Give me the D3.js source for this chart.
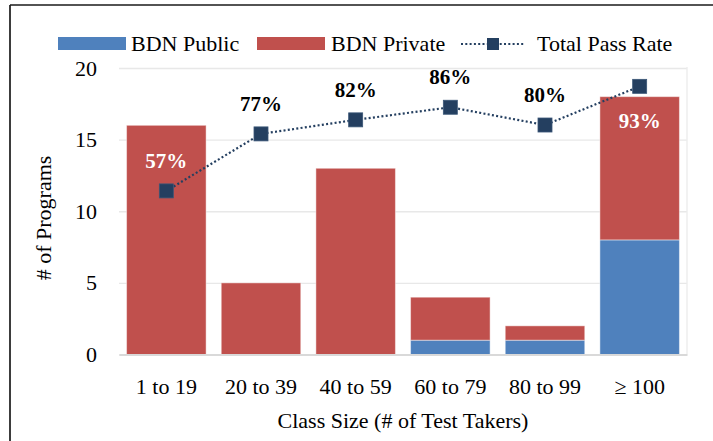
<!DOCTYPE html>
<html>
<head>
<meta charset="utf-8">
<script src="https://cdn.jsdelivr.net/npm/d3@7/dist/d3.min.js"></script>
<style>
  html, body { margin: 0; padding: 0; background: #fff; }
  svg { display: block; }
  text { font-family: "Palatino Linotype", "Book Antiqua", Palatino, "Liberation Serif", serif; }
</style>
</head>
<body>
<svg id="chart" width="713" height="441"></svg>
<script>
// ---- data ----
const categories = ["1 to 19", "20 to 39", "40 to 59", "60 to 79", "80 to 99", "\u2265 100"];
const bdnPublic  = [0, 0, 0, 1, 1, 8];
const bdnPrivate = [16, 5, 13, 3, 1, 10];
const passRate   = [57.1, 77.0, 81.9, 86.3, 80.1, 93.6];
const passLabels = ["57%", "77%", "82%", "86%", "80%", "93%"];
const yTicks     = [0, 5, 10, 15, 20];
const seriesNames = ["BDN Public", "BDN Private", "Total Pass Rate"];

// ---- styles ----
const colPublic = "#4F81BD", colPrivate = "#C0504D", colLine = "#243F60";
const W = 713, H = 441;
const plot = { left: 119, right: 687, top: 68, bottom: 354.5 };

const svg = d3.select("#chart");
svg.append("rect").attr("width", W).attr("height", H).attr("fill", "#fff");

// frame
svg.append("line").attr("x1", 10).attr("x2", W).attr("y1", 5).attr("y2", 5)
  .attr("stroke", "#1a1a1a").attr("stroke-width", 1.7);
svg.append("line").attr("x1", 10).attr("x2", 10).attr("y1", 5).attr("y2", H)
  .attr("stroke", "#1a1a1a").attr("stroke-width", 1.7);

// scales
const x = d3.scaleBand().domain(categories).range([plot.left, plot.right])
  .paddingInner(0.16).paddingOuter(0.08);
const y = d3.scaleLinear().domain([0, 20]).range([plot.bottom, plot.top]);
const y2 = d3.scaleLinear().domain([0, 100]).range([plot.bottom, plot.top]);

// gridlines
const grid = svg.append("g").call(d3.axisLeft(y).tickValues(yTicks)
    .tickSize(-(plot.right - plot.left)).tickFormat(""))
  .attr("transform", `translate(${plot.left},0)`);
grid.select(".domain").remove();
grid.selectAll("line").attr("stroke", "#e8e8e8").attr("stroke-width", 1.4);

// right faint border
svg.append("line").attr("x1", plot.right).attr("x2", plot.right)
  .attr("y1", plot.top - 1).attr("y2", plot.bottom)
  .attr("stroke", "#ededed").attr("stroke-width", 1.4);

// y tick labels
const yAxis = svg.append("g").attr("transform", `translate(${plot.left},0)`)
  .call(d3.axisLeft(y).tickValues(yTicks).tickSize(0).tickPadding(22));
yAxis.select(".domain").remove();
yAxis.selectAll("text").style("font-size", "22px").attr("fill", "#000")
  .style("font-family", "'Liberation Serif', serif");

// stacked bars
const stackData = categories.map((c, i) => ({ cat: c, pub: bdnPublic[i], priv: bdnPrivate[i] }));
const stacked = d3.stack().keys(["pub", "priv"])(stackData);
const colors = { pub: colPublic, priv: colPrivate };
svg.append("g").selectAll("g").data(stacked).join("g")
  .attr("fill", d => colors[d.key])
  .selectAll("rect").data(d => d.filter(s => s[1] - s[0] > 0)).join("rect")
  .attr("x", d => x(d.data.cat))
  .attr("width", x.bandwidth())
  .attr("y", d => y(d[1]))
  .attr("height", d => y(d[0]) - y(d[1]))
  .attr("stroke", "rgba(255,255,255,0.45)").attr("stroke-width", 1);

// x axis
const xAxis = svg.append("g").attr("transform", `translate(0,${plot.bottom})`)
  .call(d3.axisBottom(x).tickSize(0).tickPadding(24));
xAxis.select(".domain").attr("stroke", "#d9d9d9").attr("stroke-width", 2);
xAxis.selectAll("text").style("font-size", "22px").attr("fill", "#000")
  .style("font-family", "'Liberation Serif', serif");

// line + markers
const cx = d => x(d) + x.bandwidth() / 2;
const lineGen = d3.line().x((d, i) => cx(categories[i])).y(d => y2(d));
svg.append("path").datum(passRate).attr("d", lineGen)
  .attr("fill", "none").attr("stroke", colLine).attr("stroke-width", 2.2)
  .attr("stroke-dasharray", "2 2.3");
const ms = 14;
svg.append("g").selectAll("rect").data(passRate).join("rect")
  .attr("x", (d, i) => cx(categories[i]) - ms / 2)
  .attr("y", d => y2(d) - ms / 2)
  .attr("width", ms).attr("height", ms)
  .attr("fill", colLine).attr("stroke", "#3a5677").attr("stroke-width", 0.8);

// data labels
const totals = categories.map((c, i) => bdnPublic[i] + bdnPrivate[i]);
svg.append("g").selectAll("text").data(passRate).join("text")
  .each(function (d, i) {
    const last = i === passRate.length - 1;
    const by = last ? y2(d) + 42 : y2(d) - 23;
    const inside = (by - 7) > y(totals[i]);
    d3.select(this).attr("x", cx(categories[i])).attr("y", by)
      .attr("text-anchor", "middle")
      .attr("fill", inside ? "#fff" : "#000")
      .style("font-weight", "bold").style("font-size", "21px")
      .style("font-family", "'Liberation Serif', serif")
      .text(passLabels[i]);
  });

// axis titles
svg.append("text").attr("x", (plot.left + plot.right) / 2).attr("y", 428)
  .attr("text-anchor", "middle").style("font-size", "22px")
  .style("font-family", "'Liberation Serif', serif")
  .text("Class Size (# of Test Takers)");
svg.append("text").attr("transform", "translate(51,218) rotate(-90)")
  .attr("text-anchor", "middle").style("font-size", "22px")
  .style("font-family", "'Liberation Serif', serif")
  .text("# of Programs");

// legend
const lg = svg.append("g").style("font-family", "'Liberation Serif', serif").style("font-size", "22px");
lg.append("rect").attr("x", 58).attr("y", 37).attr("width", 68).attr("height", 13).attr("fill", colPublic);
lg.append("text").attr("x", 131).attr("y", 51).text(seriesNames[0]);
lg.append("rect").attr("x", 257).attr("y", 37).attr("width", 68).attr("height", 13).attr("fill", colPrivate);
lg.append("text").attr("x", 331).attr("y", 51).text(seriesNames[1]);
lg.append("line").attr("x1", 461).attr("x2", 525).attr("y1", 44).attr("y2", 44)
  .attr("stroke", colLine).attr("stroke-width", 2.2).attr("stroke-dasharray", "2 2.3");
lg.append("rect").attr("x", 487).attr("y", 38).attr("width", 12).attr("height", 12).attr("fill", colLine);
lg.append("text").attr("x", 537).attr("y", 51).text(seriesNames[2]);
</script>
</body>
</html>
